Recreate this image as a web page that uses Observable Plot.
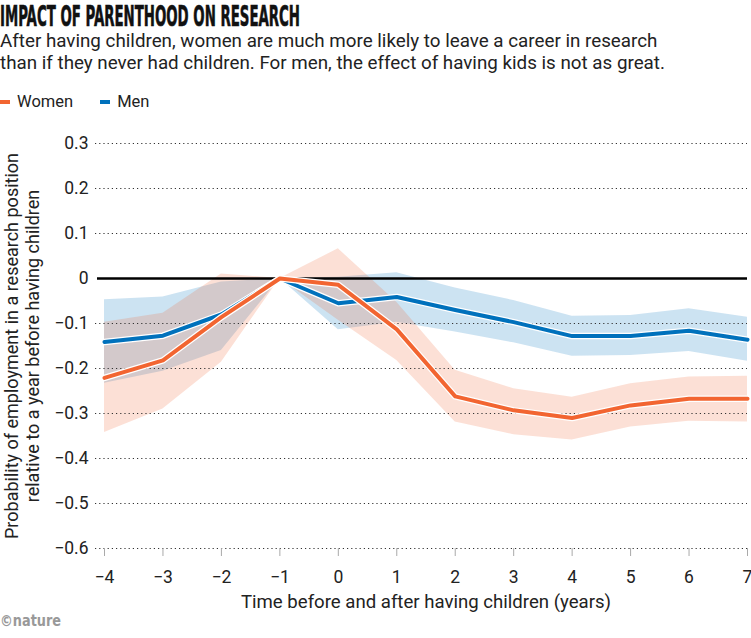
<!DOCTYPE html>
<html>
<head>
<meta charset="utf-8">
<script src="https://cdn.jsdelivr.net/npm/d3@7"></script>
<script src="https://cdn.jsdelivr.net/npm/@observablehq/plot@0.6"></script>
<style>
  html, body { margin: 0; padding: 0; background: #fff; }
  body { width: 751px; height: 638px; position: relative; overflow: hidden; font-family: Roboto, "Noto Sans", sans-serif; color: #222; }
  #title { position: absolute; left: 0; top: 0; white-space: nowrap; font-family: "Liberation Sans Narrow", "DejaVu Sans Condensed", "Liberation Sans", sans-serif; font-weight: 700; font-size: 28px; line-height: normal; color: #111; transform-origin: 0 0; -webkit-text-stroke: 0.6px #111; }
  #subtitle { position: absolute; left: 0; top: 30px; font-size: 18.8px; line-height: 22px; color: #222; white-space: nowrap; }
  #legend { position: absolute; left: 0; top: 92px; font-size: 16.5px; line-height: 20px; display: flex; align-items: center; }
  #legend .sw { display: inline-block; width: 10px; height: 4px; margin-right: 7px; }
  #legend .item { display: flex; align-items: center; margin-right: 27px; }
  #chart { position: absolute; left: 0; top: 125px; }
  #credit { position: absolute; left: 0; top: 611px; font-family: "Liberation Sans Narrow", "DejaVu Sans Condensed", sans-serif; font-weight: 700; font-size: 16px; line-height: normal; color: #999; transform-origin: 0 0; white-space: nowrap; }
</style>
</head>
<body>
<div id="title">IMPACT OF PARENTHOOD ON RESEARCH</div>
<div id="subtitle">After having children, women are much more likely to leave a career in research<br>than if they never had children. For men, the effect of having kids is not as great.</div>
<div id="legend"></div>
<div id="chart"></div>
<div id="credit">©nature</div>
<script>
// Data
const years = [-4, -3, -2, -1, 0, 1, 2, 3, 4, 5, 6, 7];
const womenValue = [-0.221, -0.182, -0.086, 0, -0.014, -0.113, -0.262, -0.293, -0.310, -0.282, -0.267, -0.267];
const womenLow   = [-0.342, -0.290, -0.186, 0, -0.093, -0.182, -0.319, -0.347, -0.359, -0.330, -0.317, -0.319];
const womenHigh  = [-0.097, -0.077, 0.010, 0, 0.066, -0.053, -0.204, -0.245, -0.264, -0.234, -0.219, -0.217];
const menValue   = [-0.141, -0.127, -0.080, 0, -0.055, -0.041, -0.070, -0.097, -0.128, -0.128, -0.116, -0.136];
const menLow     = [-0.233, -0.206, -0.160, 0, -0.114, -0.097, -0.119, -0.143, -0.173, -0.171, -0.162, -0.184];
const menHigh    = [-0.047, -0.041, -0.008, 0, 0.003, 0.013, -0.021, -0.049, -0.084, -0.082, -0.067, -0.086];
const yTicks = [0.3, 0.2, 0.1, 0, -0.1, -0.2, -0.3, -0.4, -0.5, -0.6];
const seriesNames = ["Women", "Men"];
const seriesColors = ["#f26531", "#0071bc"];

const women = years.map((x, i) => ({x, v: womenValue[i], lo: womenLow[i], hi: womenHigh[i]}));
const men = years.map((x, i) => ({x, v: menValue[i], lo: menLow[i], hi: menHigh[i]}));

// legend
const legend = document.getElementById("legend");
seriesNames.forEach((n, i) => {
  const it = document.createElement("span");
  it.className = "item";
  it.innerHTML = `<span class="sw" style="background:${seriesColors[i]}"></span>${n}`;
  legend.appendChild(it);
});

const fmtY = d => d === 0 ? "0" : d3.format(".1f")(d);
const fmtX = d3.format("d");

const chart = Plot.plot({
  width: 751,
  height: 490,
  marginTop: 18,
  marginBottom: 67,
  marginLeft: 104,
  marginRight: 4,
  style: {fontFamily: "Roboto, sans-serif", color: "#222", background: "#fff", overflow: "visible"},
  x: {domain: [-4, 7], axis: null},
  y: {domain: [-0.6, 0.3], axis: null},
  marks: [
    Plot.areaY(men, {x: "x", y1: "lo", y2: "hi", fill: seriesColors[1], fillOpacity: 0.2}),
    Plot.areaY(women, {x: "x", y1: "lo", y2: "hi", fill: seriesColors[0], fillOpacity: 0.2}),
    Plot.ruleY(yTicks.filter(d => d !== 0), {stroke: "#333", strokeWidth: 1, strokeDasharray: "1.2,3", insetLeft: -9}),
    Plot.ruleY([0], {stroke: "#000", strokeWidth: 2.5, insetLeft: -7}),
    Plot.axisX({ticks: years, tickSize: 8, tickPadding: 14, tickFormat: fmtX, stroke: "#aaa", fill: "#222", fontSize: 17.5, label: null}),
    Plot.axisY({ticks: yTicks, tickSize: 0, tickPadding: 16, tickFormat: fmtY, fill: "#222", fontSize: 17.5, label: null}),
    Plot.text(["Time before and after having children (years)"], {frameAnchor: "bottom", dy: 59, fontSize: 18.6, fill: "#222"}),
    Plot.text(["Probability of employment in a research position"], {frameAnchor: "left", dx: -92, rotate: -90, textAnchor: "middle", fontSize: 18, fill: "#222"}),
    Plot.text(["relative to a year before having children"], {frameAnchor: "left", dx: -71, rotate: -90, textAnchor: "middle", fontSize: 18, fill: "#222"}),
    Plot.lineY(men, {x: "x", y: "v", stroke: "#fff", strokeWidth: 6.5}),
    Plot.lineY(men, {x: "x", y: "v", stroke: seriesColors[1], strokeWidth: 4}),
    Plot.lineY(women, {x: "x", y: "v", stroke: "#fff", strokeWidth: 6.5}),
    Plot.lineY(women, {x: "x", y: "v", stroke: seriesColors[0], strokeWidth: 4})
  ]
});
document.getElementById("chart").appendChild(chart);

// fit the condensed title and credit to their widths in the reference
function fitWidth(el, target) {
  const w = el.getBoundingClientRect().width;
  if (w > 0) el.style.transform = `scaleX(${target / w})`;
}
fitWidth(document.getElementById("title"), 300);
fitWidth(document.getElementById("credit"), 61);
</script>
</body>
</html>
